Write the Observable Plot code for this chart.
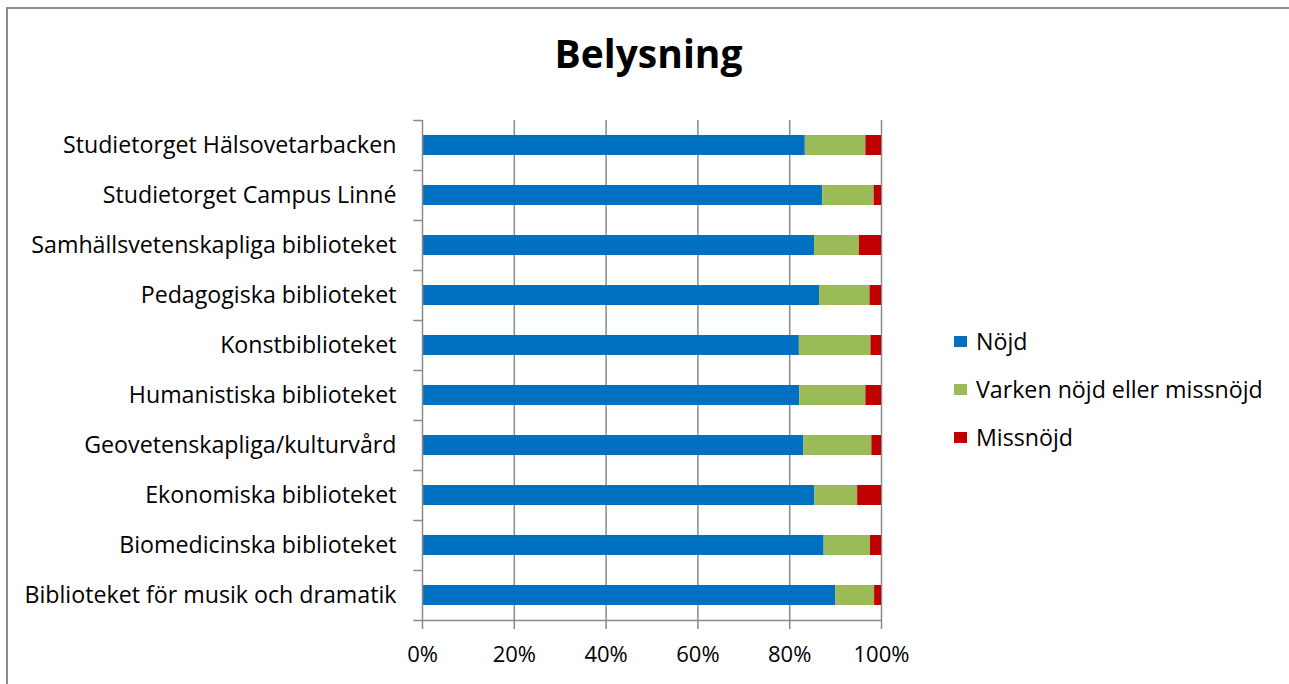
<!DOCTYPE html>
<html>
<head>
<meta charset="utf-8">
<script src="https://cdn.jsdelivr.net/npm/d3@7"></script>
<script src="https://cdn.jsdelivr.net/npm/@observablehq/plot@0.6"></script>
<style>
  html, body { margin: 0; padding: 0; background: #fff; }
  body { width: 1289px; height: 684px; overflow: hidden; position: relative; font-family: "Open Sans", sans-serif; }
  #frame { position: absolute; left: 6px; top: 7px; width: 1400px; height: 800px; border-left: 2px solid #8c8c8c; border-top: 2px solid #8c8c8c; }
  #title { position: relative; height: 90px; line-height: 1; text-align: center; font-weight: 700; font-size: 39px; color: #000; }
  #title span { position: absolute; left: 0; width: 1297px; top: 33px; }
  #chart { position: relative; }
  #legend { position: absolute; left: 954px; top: 0; font-size: 23.2px; color: #000; }
  .item { position: absolute; left: 0; white-space: nowrap; display: flex; align-items: center; }
  .sw { width: 13px; height: 11px; margin-right: 9px; }
</style>
</head>
<body>
<div id="frame"></div>
<div id="title"><span>Belysning</span></div>
<div id="chart"></div>
<div id="legend"></div>
<script>
// Categories, top to bottom
const categories = [
  "Studietorget Hälsovetarbacken",
  "Studietorget Campus Linné",
  "Samhällsvetenskapliga biblioteket",
  "Pedagogiska biblioteket",
  "Konstbiblioteket",
  "Humanistiska biblioteket",
  "Geovetenskapliga/kulturvård",
  "Ekonomiska biblioteket",
  "Biomedicinska biblioteket",
  "Biblioteket för musik och dramatik"
];
const series = ["Nöjd", "Varken nöjd eller missnöjd", "Missnöjd"];
const colors = ["#0070C0", "#9BBB59", "#C00000"];
// shares (%), same order as categories
const nojd     = [83.4, 87.2, 85.4, 86.5, 82.1, 82.2, 83.1, 85.5, 87.5, 90.0];
const varken   = [13.2, 11.2,  9.8, 11.0, 15.6, 14.4, 14.8,  9.3, 10.1,  8.5];
const missnojd = [ 3.4,  1.6,  4.8,  2.5,  2.3,  3.4,  2.1,  5.2,  2.4,  1.5];
const xTicks = [0, 0.2, 0.4, 0.6, 0.8, 1.0];

const seriesValues = [nojd, varken, missnojd];
const rows = [];
categories.forEach((c, i) => {
  series.forEach((s, j) => rows.push({category: c, series: s, value: seriesValues[j][i] / 100}));
});

const axisColor = "#8a8a8a";

const plot = Plot.plot({
  width: 1289,
  height: 594,
  marginLeft: 422,
  marginRight: 408,
  marginTop: 30,
  marginBottom: 64,
  style: {fontFamily: "Open Sans", fontSize: "22px", color: "#000", background: "transparent", overflow: "visible"},
  x: {domain: [0, 1], axis: null},
  y: {domain: categories, padding: 0, axis: null},
  color: {domain: series, range: colors},
  marks: [
    Plot.ruleX(xTicks.slice(1), {stroke: axisColor, strokeWidth: 1.5}),
    Plot.barX(rows, {x: "value", y: "category", fill: "series", insetTop: 15, insetBottom: 15, order: series}),
    Plot.ruleX([0], {stroke: axisColor, strokeWidth: 1.5}),
    Plot.ruleY(categories, {y: d => d, x1: -0.019, x2: 0, dy: -25, stroke: axisColor, strokeWidth: 1.5}),
    Plot.ruleY(categories.slice(-1), {y: d => d, x1: -0.019, x2: 1, dy: 25, stroke: axisColor, strokeWidth: 1.5}),
    Plot.axisX({ticks: xTicks, tickSize: 9, tickPadding: 17, tickFormat: d3.format(".0%"), stroke: axisColor, strokeWidth: 1.5, strokeOpacity: 1, fontSize: "22px", label: null}),
    Plot.axisY({tickSize: 0, tickPadding: 26, fontSize: "23.2px", label: null})
  ]
});
document.getElementById("chart").appendChild(plot);

// Legend (HTML), vertically centred rows
const legend = document.getElementById("legend");
const legendTops = [341, 389, 437];
series.forEach((s, i) => {
  const it = document.createElement("div");
  it.className = "item";
  it.style.top = (legendTops[i] - 16) + "px";
  it.style.height = "32px";
  const sw = document.createElement("span");
  sw.className = "sw";
  sw.style.background = colors[i];
  const tx = document.createElement("span");
  tx.textContent = s;
  it.appendChild(sw); it.appendChild(tx);
  legend.appendChild(it);
});
</script>
</body>
</html>
